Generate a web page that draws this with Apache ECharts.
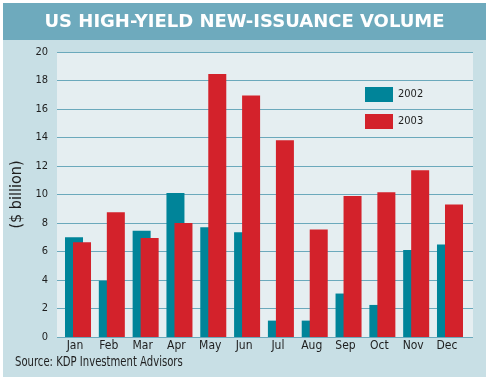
<!DOCTYPE html>
<html><head><meta charset="utf-8">
<script src="https://cdn.jsdelivr.net/npm/echarts@6/dist/echarts.min.js"></script>
<style>html,body{margin:0;padding:0;background:#fff}#c{width:489px;height:380px}</style>
</head><body><div id="c"></div>
<script>
const months = ['Jan','Feb','Mar','Apr','May','Jun','Jul','Aug','Sep','Oct','Nov','Dec'];
const vol2002 = [7.0, 3.95, 7.45, 10.1, 7.7, 7.35, 1.15, 1.15, 3.05, 2.25, 6.1, 6.5];
const vol2003 = [6.65, 8.75, 6.95, 8.0, 18.45, 16.95, 13.8, 7.55, 9.9, 10.15, 11.7, 9.3];
const yTicks = {min: 0, max: 20, interval: 2};
const sourceText = 'Source: KDP Investment Advisors';

const FONT = "'Liberation Sans Narrow','DejaVu Sans Condensed','Liberation Sans',sans-serif";
const chart = echarts.init(document.getElementById('c'), null, {renderer: 'canvas'});
chart.setOption({
  backgroundColor: '#ffffff',
  animation: false,
  graphic: [
    {type: 'rect', z: -10, shape: {x: 3, y: 3, width: 483, height: 37}, style: {fill: '#6eaabd'}},
    {type: 'rect', z: -10, shape: {x: 3, y: 40, width: 483, height: 337}, style: {fill: '#c8dfe5'}},
    {type: 'text', x: 15, y: 362, scaleX: 0.8, z: 10,
     style: {text: sourceText, fill: '#1e1e1e', fontSize: 14, fontFamily: FONT, verticalAlign: 'middle', align: 'left'}}
  ],
  title: [
    {text: 'US HIGH-YIELD NEW-ISSUANCE VOLUME', left: 'center', top: 13, padding: 0,
     textStyle: {color: '#ffffff', fontSize: 18, fontWeight: 'bold', fontFamily: "'DejaVu Sans',sans-serif"}}
  ],
  legend: {
    orient: 'vertical', left: 365, top: 87, padding: 0, itemWidth: 28, itemHeight: 15, itemGap: 12, icon: 'rect',
    textStyle: {color: '#1e1e1e', fontSize: 11, fontFamily: FONT}, itemStyle: {borderWidth: 0},
    data: ['2002', '2003']
  },
  grid: [
    {left: 57, right: 16, top: 52, bottom: 43, show: true, backgroundColor: '#e5eef1', borderWidth: 0},
    {left: 61.1, right: 22.1, top: 52, bottom: 43}
  ],
  xAxis: [
    {type: 'category', gridIndex: 0, data: months, show: false},
    {type: 'category', gridIndex: 1, data: months,
     axisLine: {show: false}, axisTick: {show: false},
     axisLabel: {color: '#1e1e1e', fontSize: 12, fontFamily: FONT, margin: 3, padding: [0, 6, 0, 0]}}
  ],
  yAxis: [
    {type: 'value', gridIndex: 0, min: yTicks.min, max: yTicks.max, interval: yTicks.interval,
     name: '($ billion)', nameLocation: 'middle', nameRotate: 90, nameGap: 27,
     nameTextStyle: {color: '#1e1e1e', fontSize: 16, fontFamily: FONT},
     axisLine: {show: false}, axisTick: {show: false},
     axisLabel: {color: '#1e1e1e', fontSize: 11, fontFamily: FONT, margin: 9},
     splitLine: {lineStyle: {color: '#6ba9bc', width: 1}}},
    {type: 'value', gridIndex: 1, min: yTicks.min, max: yTicks.max, interval: yTicks.interval, show: false, splitLine: {show: false}}
  ],
  series: [
    {name: '2002', type: 'bar', xAxisIndex: 1, yAxisIndex: 1, data: vol2002, barWidth: 18, barGap: '-55.5%',
     itemStyle: {color: '#008499'}},
    {name: '2003', type: 'bar', xAxisIndex: 1, yAxisIndex: 1, data: vol2003, barWidth: 18, barGap: '-55.5%',
     itemStyle: {color: '#d3222b'}}
  ]
});
</script></body></html>
